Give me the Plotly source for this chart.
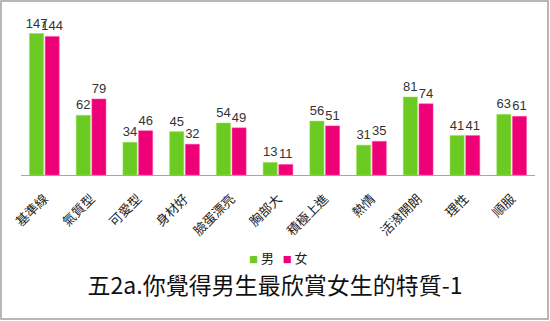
import plotly.graph_objects as go

categories = ["基準線", "氣質型", "可愛型", "身材好", "臉蛋漂亮", "胸部大", "積極上進", "熱情", "活潑開朗", "理性", "順服"]
male = [147, 62, 34, 45, 54, 13, 56, 31, 81, 41, 63]
female = [144, 79, 46, 32, 49, 11, 51, 35, 74, 41, 61]
series_names = ["男", "女"]
colors = ["#6CCB22", "#EE0077"]
title_text = "五2a.你覺得男生最欣賞女生的特質-1"

W, H = 550, 321
ml, mr, mt, mb = 21, 15, 21, 146
pw, ph = W - ml - mr, H - mt - mb

fig = go.Figure()
for name, vals, col, lc in [(series_names[0], male, colors[0], "#8EE04A"),
                            (series_names[1], female, colors[1], "#FF4FA0")]:
    fig.add_trace(go.Bar(x=categories, y=vals, name=name,
                         marker=dict(color=col, line=dict(color=lc, width=0.5)),
                         text=vals, textposition="outside", cliponaxis=False,
                         constraintext="none",
                         textfont=dict(size=13, color="#333333",
                                       family="Liberation Sans Narrow, Liberation Sans, Arial, sans-serif")))

sq = "<span style='font-size:9px;color:{c}'>■</span>"
legend_html = (sq.format(c=colors[0]) + " " + series_names[0] + "   "
               + sq.format(c=colors[1]) + " " + series_names[1])

fig.update_layout(
    width=W, height=H,
    margin=dict(l=ml, r=mr, t=mt, b=mb),
    paper_bgcolor="white", plot_bgcolor="white",
    font=dict(family="Noto Sans CJK TC, Noto Sans, sans-serif", color="#222222"),
    barmode="group", bargap=0.33, bargroupgap=0.1,
    showlegend=False,
    title=dict(text=title_text, x=0.5, xanchor="center", xref="container",
               y=1 - 286 / H, yanchor="middle", yref="container",
               font=dict(size=23, color="#111111", family="Noto Sans CJK TC, sans-serif")),
    xaxis=dict(showline=True, linecolor="#A6A6A6", linewidth=1, ticks="",
               tickangle=-45, tickfont=dict(size=13, color="#222222"),
               ticklabelstandoff=10,
               showgrid=False, range=[-0.5, len(categories) - 0.5]),
    yaxis=dict(visible=False, range=[0, 160], showgrid=False),
    annotations=[dict(text=legend_html, xref="paper", yref="paper",
                      x=(278 - ml) / pw, y=-(257 - mt - ph) / ph,
                      xanchor="center", yanchor="middle", showarrow=False,
                      font=dict(size=13, color="#222222"))],
    shapes=[dict(type="rect", xref="paper", yref="paper",
                 x0=(1 - ml) / pw, x1=(W - 2 - ml) / pw,
                 y0=-(H - 2 - mt - ph) / ph, y1=1 + (mt - 1) / ph,
                 line=dict(color="#A0A0A0", width=1.5), layer="below")],
)

fig.write_html("out.html")
